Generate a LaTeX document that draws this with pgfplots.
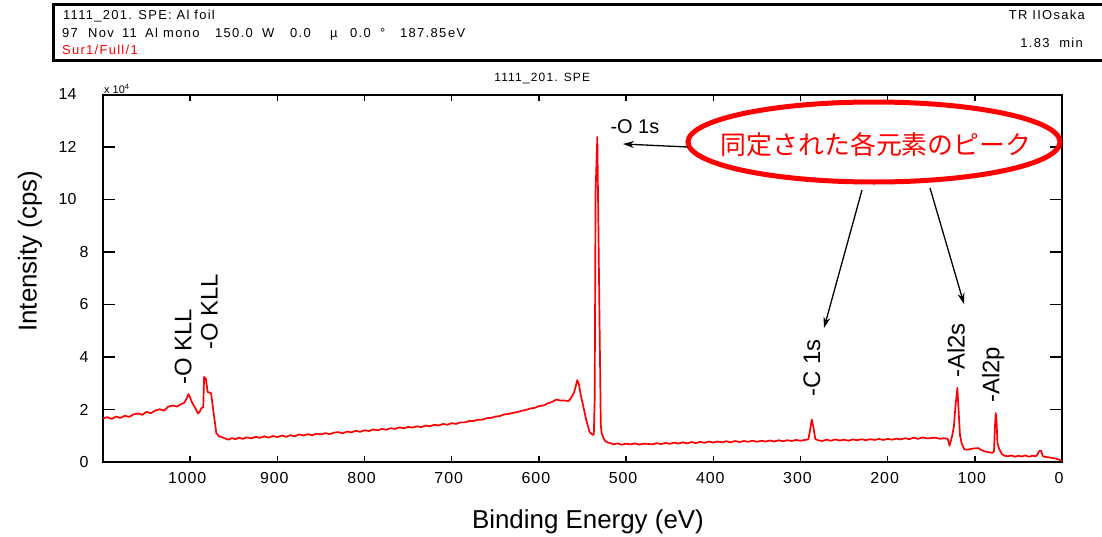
\documentclass[border=0pt]{standalone}
\usepackage{fontspec}
\setmainfont{Liberation Sans}
\newfontfamily\hdr[LetterSpace=10]{Liberation Sans}
\newfontfamily\tickfont[LetterSpace=6]{Liberation Sans}
\newfontfamily\cjk{Noto Sans CJK JP}
\usepackage{pgfplots}
\pgfplotsset{compat=1.18}
\usetikzlibrary{arrows.meta}
\newcommand\fs[1]{\fontsize{#1}{#1}\selectfont}
\newcommand\hd[2]{\node[anchor=base west, inner sep=0] at (#1bp,-37bp) {\hdr\fs{13}#2};}

\begin{document}
\begin{tikzpicture}
\path[use as bounding box] (0,0) rectangle (1102bp,-537bp);

% header box
\draw[line width=3bp] (53bp,-4bp) rectangle (1120bp,-60bp);
\node[anchor=base west, inner sep=0] at (63bp,-19bp) {\hdr\fs{13}1111\_201. SPE: Al foil};
\hd{62}{97}\hd{88}{Nov}\hd{122}{11}\hd{145}{Al}\hd{163}{mono}\hd{215}{150.0}\hd{262}{W}
\hd{290}{0.0}\hd{330}{µ}\hd{350}{0.0}\hd{380}{°}\hd{400}{187.85}\hd{448}{eV}
\node[anchor=base west, inner sep=0, text=red] at (62bp,-54bp) {\hdr\fs{13}Sur1/Full/1};
\node[anchor=base east, inner sep=0] at (1085bp,-19bp) {\hdr\fs{13}TR IIOsaka};
\node[anchor=base east, inner sep=0] at (1083bp,-47bp) {\hdr\fs{13}1.83\ \ min};

\begin{axis}[
  at={(103bp,-462bp)}, anchor=south west,
  scale only axis, width=959bp, height=367.5bp,
  x dir=reverse, xmin=0, xmax=1100, ymin=0, ymax=14,
  xtick={0,100,...,1000}, ytick={0,2,...,14},
  yticklabels={0,2,4,6,8,10\hspace*{12bp},12\hspace*{12bp},14\hspace*{12bp}},
  tick align=inside,
  xtick style={line width=1.5bp, black, /pgfplots/major tick length=6bp},
  ytick style={line width=1.5bp, black, /pgfplots/major tick length=12bp},
  axis line style={line width=2bp},
  /pgf/number format/assume math mode=true,
  /pgf/number format/1000 sep={},
  xticklabel style={font=\tickfont\fs{16}, yshift=-7bp, xshift=-3bp},
  yticklabel style={font=\fs{16}, xshift=-11bp},
  xlabel={Binding Energy (eV)},
  xlabel style={at={(axis description cs:0.5057,-0.163)}, anchor=center, font=\fs{26}},
  ylabel={Intensity (cps)},
  ylabel style={at={(axis description cs:-0.0761,0.574)}, anchor=center, font=\fs{26}},
  title={1111\_201. SPE},
  title style={at={(axis description cs:0.458,1.0286)}, anchor=center, font=\hdr\fs{12}},
]
\addplot[red, line width=1.7bp, line join=round] coordinates {
(1100,1.66) (1095,1.71) (1090,1.64) (1085,1.73) (1080,1.68) (1075,1.76) (1070,1.72)
(1065,1.81) (1060,1.85) (1055,1.80) (1050,1.91) (1045,1.86) (1040,1.96) (1035,2.01)
(1030,1.96) (1025,2.11) (1020,2.15) (1015,2.11) (1010,2.21) (1007,2.25) (1004,2.42)
(1002,2.59) (1000,2.45) (998,2.28) (995,2.10) (993,1.98) (991,1.85) (989,1.92)
(987,2.06) (985,2.08) (984,3.24) (982,3.18) (980,2.67) (976,2.62) (974,2.10)
(972,1.60) (970,1.10) (967,0.98) (964,0.95) (960,0.90) (956,0.85) (952,0.91)
(948,0.87) (944,0.93) (940,0.88) (935,0.94) (930,0.90) (925,0.96) (920,0.92)
(915,0.98) (910,0.93) (905,0.99) (900,0.95) (895,1.01) (890,0.96) (885,1.02)
(880,0.98) (875,1.05) (870,1.01) (865,1.06) (860,1.02) (855,1.08) (850,1.05)
(845,1.10) (840,1.06) (835,1.12) (830,1.14) (825,1.09) (820,1.16) (815,1.13)
(810,1.19) (805,1.15) (800,1.21) (795,1.18) (790,1.24) (785,1.21) (780,1.26)
(775,1.23) (770,1.29) (765,1.26) (760,1.32) (755,1.28) (750,1.34) (745,1.31)
(740,1.36) (735,1.33) (730,1.39) (725,1.36) (720,1.42) (715,1.39) (710,1.45)
(705,1.42) (700,1.48) (695,1.45) (690,1.51) (685,1.51) (680,1.56) (675,1.56)
(670,1.61) (665,1.61) (660,1.67) (655,1.68) (650,1.73) (645,1.75) (640,1.81)
(635,1.83) (630,1.87) (625,1.90) (620,1.95) (615,1.98) (610,2.04) (605,2.06)
(600,2.13) (595,2.15) (590,2.23) (585,2.29) (580,2.38) (575,2.34) (570,2.34)
(566,2.32) (563,2.45) (560,2.62) (558,2.85) (556,3.12) (554,2.95) (552,2.55)
(550,2.27) (548,1.95) (546,1.65) (544,1.40) (542,1.15) (540,1.08) (538,1.03)
(537,1.05) (536,2.40) (535,10.3) (533,12.38) (529,1.40) (528,1.10) (526,0.92)
(524,0.80) (521,0.74) (518,0.72) (515,0.67) (510,0.71) (505,0.66) (500,0.70)
(495,0.67) (490,0.71) (485,0.66) (480,0.70) (475,0.69) (470,0.67) (465,0.72)
(460,0.68) (455,0.73) (450,0.69) (445,0.74) (440,0.70) (435,0.75) (430,0.71)
(425,0.76) (420,0.72) (415,0.77) (410,0.73) (405,0.78) (400,0.74) (395,0.78)
(390,0.75) (385,0.79) (380,0.75) (375,0.80) (370,0.76) (365,0.80) (360,0.77)
(355,0.81) (350,0.77) (345,0.81) (340,0.78) (335,0.82) (330,0.78) (325,0.83)
(320,0.79) (315,0.83) (310,0.80) (305,0.84) (300,0.81) (295,0.84) (291,0.86)
(289,1.20) (287,1.62) (285,1.30) (283,0.88) (280,0.83) (275,0.80) (270,0.85)
(265,0.81) (260,0.86) (255,0.82) (250,0.85) (245,0.81) (240,0.86) (235,0.83)
(230,0.87) (225,0.83) (220,0.87) (215,0.84) (210,0.88) (205,0.84) (200,0.88)
(195,0.85) (190,0.89) (185,0.86) (180,0.91) (175,0.87) (170,0.93) (165,0.88)
(160,0.94) (155,0.90) (150,0.91) (145,0.93) (140,0.88) (135,0.91) (131,0.88)
(129,0.62) (126,1.00) (124,1.35) (122,2.20) (120,2.82) (118,1.60) (117,1.03)
(115,0.70) (112,0.48) (108,0.47) (104,0.50) (100,0.52) (96,0.53) (92,0.45)
(88,0.40) (84,0.37) (80,0.35) (78,0.40) (77,1.30) (76,1.87) (75,1.50)
(74,0.70) (72,0.50) (69,0.30) (66,0.24) (62,0.22) (58,0.25) (54,0.20)
(50,0.24) (46,0.21) (42,0.25) (38,0.20) (34,0.24) (30,0.22) (28,0.30)
(26,0.42) (24,0.43) (22,0.22) (18,0.19) (14,0.17) (10,0.15) (6,0.12)
(3,0.08) (0,0.05)
};
\node[rotate=90, anchor=west, inner sep=0, font=\fs{24}] at (axis cs:1008,2.93) {-O KLL};
\node[rotate=90, anchor=west, inner sep=0, font=\fs{24}] at (axis cs:978,4.27) {-O KLL};
\node[rotate=90, anchor=west, inner sep=0, font=\fs{24}] at (axis cs:287,2.48) {-C 1s};
\node[rotate=90, anchor=west, inner sep=0, font=\fs{24}] at (axis cs:121.6,3.2) {-Al2s};
\node[rotate=90, anchor=west, inner sep=0, font=\fs{24}] at (axis cs:79,2.25) {-Al2p};
\node[anchor=west, inner sep=0, font=\fs{20}] at (axis cs:518,12.76) {-O 1s};
\end{axis}

\node[anchor=base west, inner sep=0] at (104bp,-93bp) {\fs{11}x 10\textsuperscript{4}};

% annotation
\draw[red, line width=5bp] (874bp,-142bp) ellipse [x radius=186bp, y radius=40bp];
\node[text=red, inner sep=0] at (876bp,-145bp) {\cjk\fs{26}同定された各元素のピーク};
\draw[line width=1.3bp, -{Stealth[length=11bp,width=7bp]}] (688bp,-147bp) -- (623bp,-144bp);
\draw[line width=1.3bp, -{Stealth[length=11bp,width=7bp]}] (862bp,-190bp) -- (824bp,-328bp);
\draw[line width=1.3bp, -{Stealth[length=11bp,width=7bp]}] (930bp,-188bp) -- (964bp,-304bp);
\end{tikzpicture}
\end{document}
